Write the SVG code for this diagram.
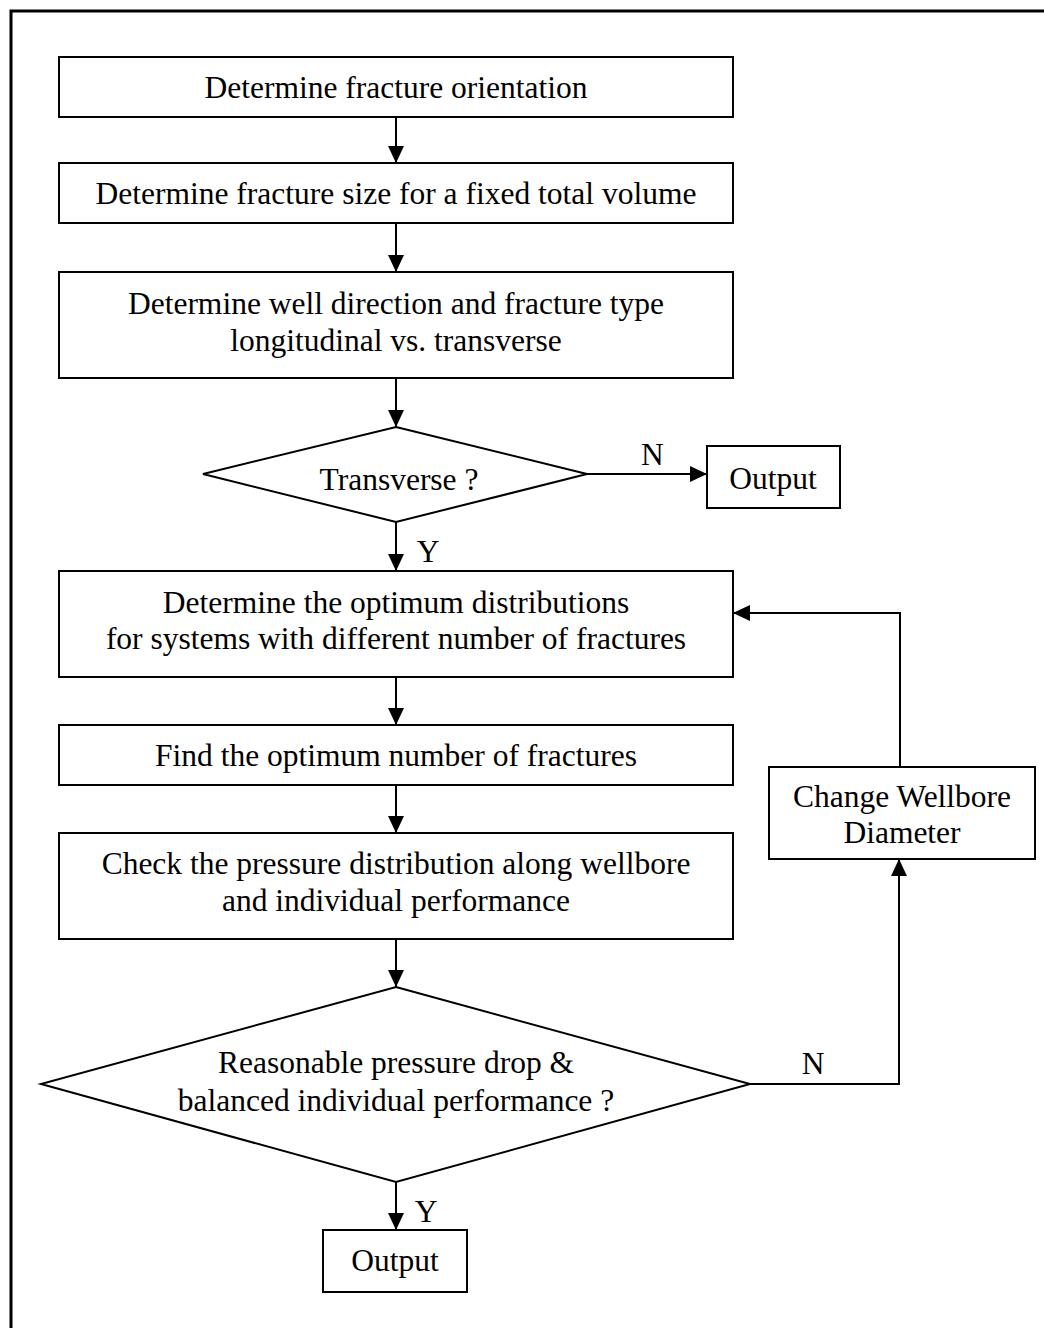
<svg xmlns="http://www.w3.org/2000/svg" width="1044" height="1328" viewBox="0 0 1044 1328">
  <style>
    .frame { fill: none; stroke: #000; stroke-width: 3; }
    .box { fill: #fff; stroke: #000; stroke-width: 2; }
    .edge { fill: none; stroke: #000; stroke-width: 2; }
    text { font-family: "Liberation Serif", "Times New Roman", serif; font-size: 31.5px; fill: #000; }
    .c { text-anchor: middle; }
  </style>
  <defs>
    <marker id="arrow" markerUnits="userSpaceOnUse" markerWidth="18" markerHeight="18" viewBox="0 0 18 18" refX="17" refY="9" orient="auto">
      <path d="M0,1 L17,9 L0,17 Z" fill="#000"/>
    </marker>
  </defs>

  <rect width="1044" height="1328" fill="#fff"/>
  <!-- outer frame, open at right and bottom edges of the page -->
  <rect class="frame" x="11" y="11" width="1060" height="1340"/>

  <g id="connectors">
    <line class="edge" x1="396" y1="117" x2="396" y2="163" marker-end="url(#arrow)"/>
    <line class="edge" x1="396" y1="223" x2="396" y2="272" marker-end="url(#arrow)"/>
    <line class="edge" x1="396" y1="378" x2="396" y2="427" marker-end="url(#arrow)"/>
    <line class="edge" x1="587" y1="474" x2="707" y2="474" marker-end="url(#arrow)"/>
    <line class="edge" x1="396" y1="522" x2="396" y2="571" marker-end="url(#arrow)"/>
    <line class="edge" x1="396" y1="677" x2="396" y2="725" marker-end="url(#arrow)"/>
    <line class="edge" x1="396" y1="785" x2="396" y2="833" marker-end="url(#arrow)"/>
    <line class="edge" x1="396" y1="939" x2="396" y2="987" marker-end="url(#arrow)"/>
    <polyline class="edge" points="750,1084 899,1084 899,859" marker-end="url(#arrow)"/>
    <polyline class="edge" points="900,767 900,613 733,613" marker-end="url(#arrow)"/>
    <line class="edge" x1="396" y1="1182" x2="396" y2="1230" marker-end="url(#arrow)"/>
    <text x="641" y="465">N</text>
    <text x="428" y="562" class="c">Y</text>
    <text x="813" y="1074" class="c">N</text>
    <text x="426" y="1222" class="c">Y</text>
  </g>

  <g id="orientation">
    <rect class="box" x="59" y="57" width="674" height="60"/>
    <text class="c" x="396" y="97.5">Determine fracture orientation</text>
  </g>

  <g id="size">
    <rect class="box" x="59" y="163" width="674" height="60"/>
    <text class="c" x="396" y="204">Determine fracture size for a fixed total volume</text>
  </g>

  <g id="direction">
    <rect class="box" x="59" y="272" width="674" height="106"/>
    <text class="c" x="396" y="314">Determine well direction and fracture type</text>
    <text class="c" x="396" y="351">longitudinal vs. transverse</text>
  </g>

  <g id="transverse">
    <polygon class="box" points="396,427 587,474 396,522 203,474"/>
    <text class="c" x="399" y="490">Transverse ?</text>
  </g>

  <g id="output-1">
    <rect class="box" x="707" y="446" width="133" height="62"/>
    <text class="c" x="773" y="489">Output</text>
  </g>

  <g id="distributions">
    <rect class="box" x="59" y="571" width="674" height="106"/>
    <text class="c" x="396" y="613">Determine the optimum distributions</text>
    <text class="c" x="396" y="649">for systems with different number of fractures</text>
  </g>

  <g id="number">
    <rect class="box" x="59" y="725" width="674" height="60"/>
    <text class="c" x="396" y="766">Find the optimum number of fractures</text>
  </g>

  <g id="pressure-check">
    <rect class="box" x="59" y="833" width="674" height="106"/>
    <text class="c" x="396" y="874">Check the pressure distribution along wellbore</text>
    <text class="c" x="396" y="911">and individual performance</text>
  </g>

  <g id="reasonable">
    <polygon class="box" points="396,987 750,1084 396,1182 41,1084"/>
    <text class="c" x="396" y="1073">Reasonable pressure drop &amp;</text>
    <text class="c" x="396" y="1111">balanced individual performance ?</text>
  </g>

  <g id="change-diameter">
    <rect class="box" x="769" y="767" width="266" height="92"/>
    <text class="c" x="902" y="807">Change Wellbore</text>
    <text class="c" x="902" y="843">Diameter</text>
  </g>

  <g id="output-2">
    <rect class="box" x="323" y="1230" width="144" height="62"/>
    <text class="c" x="395" y="1271">Output</text>
  </g>
</svg>
